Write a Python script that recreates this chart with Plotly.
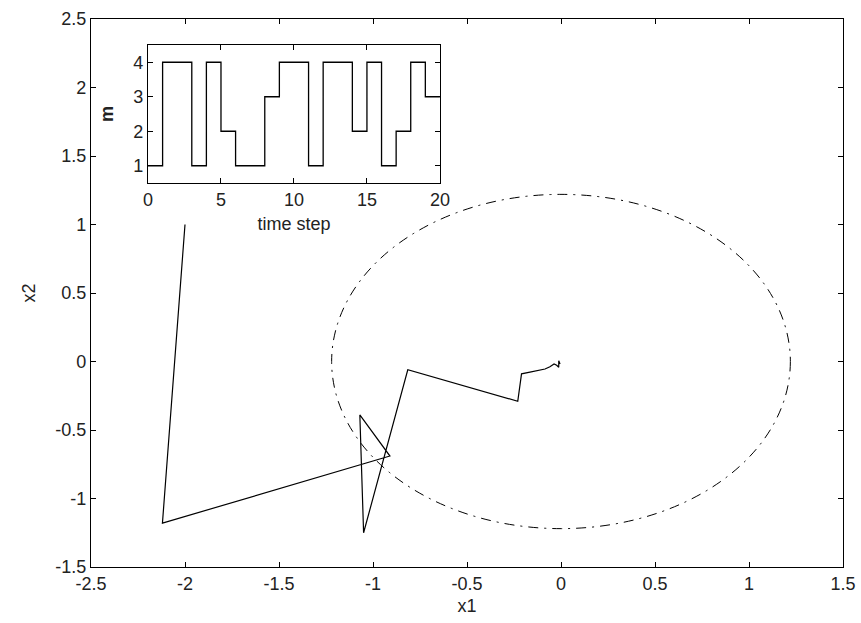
import plotly.graph_objects as go

# main trajectory (x1, x2)
traj_x1 = [-2.0, -2.12, -0.91, -1.07, -1.05, -0.815, -0.23, -0.21, -0.165, -0.085,
           -0.059, -0.037, -0.023, -0.012, -0.012, -0.005]
traj_x2 = [1.0, -1.18, -0.69, -0.39, -1.25, -0.06, -0.29, -0.09, -0.077, -0.055,
           -0.038, -0.018, -0.028, -0.042, 0.006, -0.018]

# constraint circle (dash-dot)
circle_center = (0.0, 0.0)
circle_radius = 1.22

# inset: mode m per time step
time_steps = list(range(21))
mode_m = [1, 4, 4, 1, 4, 2, 1, 1, 3, 4, 4, 1, 4, 4, 2, 4, 1, 2, 4, 3, 3]

main_xticks = [-2.5, -2, -1.5, -1, -0.5, 0, 0.5, 1, 1.5]
main_yticks = [-1.5, -1, -0.5, 0, 0.5, 1, 1.5, 2, 2.5]

FONT = "Liberation Sans, Arial, sans-serif"
FS = 18

fig = go.Figure()
fig.add_trace(go.Scatter(x=traj_x1, y=traj_x2, mode="lines",
                         line=dict(color="black", width=1.2),
                         xaxis="x", yaxis="y", showlegend=False))
fig.add_trace(go.Scatter(x=time_steps, y=mode_m, mode="lines",
                         line=dict(color="black", width=1.3, shape="hv"),
                         xaxis="x2", yaxis="y2", showlegend=False))

fig.add_shape(type="circle", xref="x", yref="y",
              x0=circle_center[0] - circle_radius, x1=circle_center[0] + circle_radius,
              y0=circle_center[1] - circle_radius, y1=circle_center[1] + circle_radius,
              line=dict(color="black", width=1, dash="10px,6px,2px,6px"))

axis_common = dict(showline=True, linecolor="black", linewidth=1.2, mirror="ticks",
                   ticks="inside", ticklen=5, tickcolor="black", showgrid=False,
                   zeroline=False, automargin=False,
                   tickfont=dict(family=FONT, size=FS, color="#222"))

fig.update_layout(
    width=861, height=623,
    margin=dict(l=91, r=18, t=19, b=56, autoexpand=False),
    paper_bgcolor="white", plot_bgcolor="white",
    font=dict(family=FONT, size=FS, color="#222"),
    xaxis=dict(range=[-2.5, 1.5], tickvals=main_xticks,
               ticktext=[f"{v:g}" for v in main_xticks],
               title=dict(text="x1", font=dict(size=FS), standoff=6),
               domain=[0, 1], **axis_common),
    yaxis=dict(range=[-1.5, 2.5], tickvals=main_yticks,
               ticktext=[f"{v:g}" for v in main_yticks],
               title=dict(text="x2", font=dict(size=FS), standoff=14),
               domain=[0, 1], **axis_common),
    xaxis2=dict(range=[0, 20], tickvals=[0, 5, 10, 15, 20], anchor="y2",
                domain=[0.0758, 0.464],
                title=dict(text="time step", font=dict(size=FS), standoff=8),
                **axis_common),
    yaxis2=dict(range=[0.5, 4.5], tickvals=[1, 2, 3, 4], anchor="x2",
                domain=[0.7007, 0.9526],
                title=dict(text="<b>m</b>", font=dict(size=FS), standoff=14),
                **axis_common),
)

fig.write_html("out.html", config={"displayModeBar": False},
               post_script="document.body.style.margin='0';document.body.style.overflow='hidden';")
